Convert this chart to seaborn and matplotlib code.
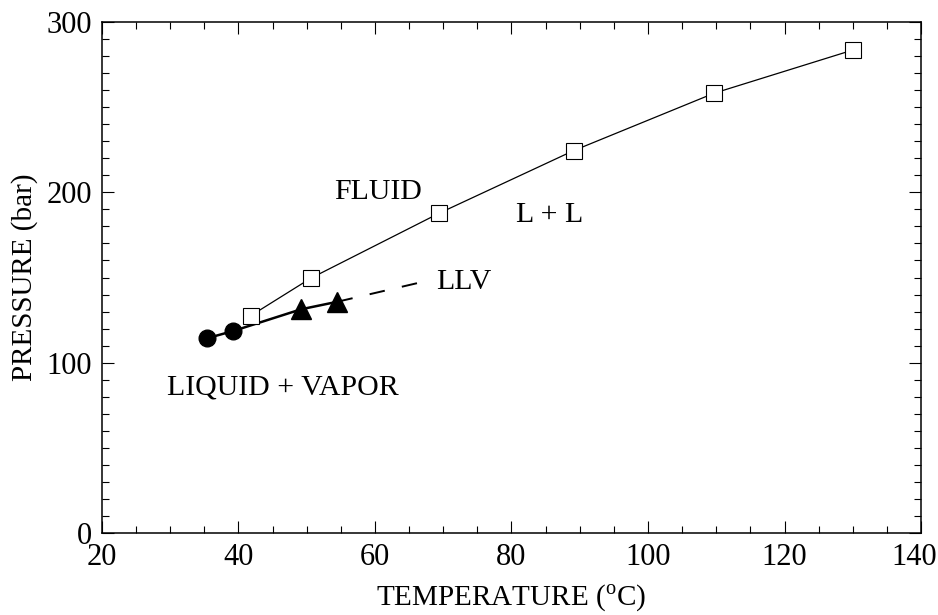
import matplotlib
matplotlib.use("Agg")
import matplotlib.pyplot as plt
from matplotlib.ticker import MultipleLocator
from matplotlib.transforms import ScaledTranslation
import pandas as pd
import seaborn as sns

# critical points (L = L), open squares
ll_temp = [41.8, 50.6, 69.4, 89.1, 109.7, 130.1]
ll_pres = [127.6, 149.6, 187.7, 224.4, 258.1, 283.5]

# vapor-liquid critical points, filled circles
vl_temp = [35.4, 39.2]
vl_pres = [114.4, 118.6]

# LLV points, filled triangles
llv_temp = [49.2, 54.5]
llv_pres = [131.4, 135.8]

# dashed extrapolation of LLV line
llv_ext_temp = [54.5, 67.8]
llv_ext_pres = [135.8, 148.2]

sns.set_style("ticks")
plt.rcParams["font.family"] = ["Liberation Serif", "DejaVu Serif"]
plt.rcParams["mathtext.fontset"] = "custom"
plt.rcParams["mathtext.rm"] = "Liberation Serif"
plt.rcParams["text.color"] = "black"
plt.rcParams["axes.labelcolor"] = "black"

fig = plt.figure(figsize=(9.38, 6.15), dpi=100)
ax = fig.add_axes([0.1087, 0.1328, 0.8732, 0.8319])

ll_df = pd.DataFrame({"T": ll_temp, "P": ll_pres})
low_df = pd.DataFrame({"T": vl_temp + llv_temp, "P": vl_pres + llv_pres})
ext_df = pd.DataFrame({"T": llv_ext_temp, "P": llv_ext_pres})

# lines
sns.lineplot(data=ll_df, x="T", y="P", ax=ax, color="black", lw=0.9,
             sort=False, estimator=None)
sns.lineplot(data=low_df, x="T", y="P", ax=ax, color="black", lw=1.8,
             sort=False, estimator=None)
sns.lineplot(data=ext_df, x="T", y="P", ax=ax, color="black", lw=1.4,
             sort=False, estimator=None, dashes=False)
ax.lines[-1].set_dashes([8, 9])

# markers
ax.plot(ll_temp, ll_pres, ls="none", marker="s", ms=12, mfc="white",
        mec="black", mew=0.8)
ax.plot(vl_temp, vl_pres, ls="none", marker="o", ms=12, color="black")
ax.plot(llv_temp, llv_pres, ls="none", marker="^", ms=14, color="black")

# region labels
fs = 21.5
ax.text(60.4, 200.4, "FLUID", fontsize=fs, ha="center", va="center")
ax.text(85.6, 186.8, "L + L", fontsize=fs, ha="center", va="center")
ax.text(68.9, 147.5, "LLV", fontsize=fs, ha="left", va="center")
ax.text(46.5, 85.3, "LIQUID + VAPOR", fontsize=fs, ha="center", va="center")

ax.set_xlim(20, 140)
ax.set_ylim(0, 300)
ax.xaxis.set_major_locator(MultipleLocator(20))
ax.xaxis.set_minor_locator(MultipleLocator(5))
ax.yaxis.set_major_locator(MultipleLocator(100))
ax.yaxis.set_minor_locator(MultipleLocator(10))
ax.tick_params(which="both", direction="in", top=True, right=True,
               labelsize=22, width=0.8, color="black", labelcolor="black")
ax.tick_params(which="major", length=8.5, pad=7)
ax.tick_params(which="minor", length=5)

for sp in ax.spines.values():
    sp.set_visible(True)
    sp.set_linewidth(1.1)
    sp.set_color("black")

ax.set_xlabel(r"TEMPERATURE ($^{\mathrm{o}}$C)", fontsize=21, labelpad=8)
ax.set_ylabel("PRESSURE (bar)", fontsize=21, labelpad=6)

# keep the "140" tick label inside the figure
fig.canvas.draw()
for tick in ax.xaxis.get_major_ticks():
    if tick.label1.get_text() == "140":
        tick.label1.set_transform(tick.label1.get_transform() +
                                  ScaledTranslation(-7 / 100, 0, fig.dpi_scale_trans))

fig.savefig("out.png", dpi=100, facecolor="white")
